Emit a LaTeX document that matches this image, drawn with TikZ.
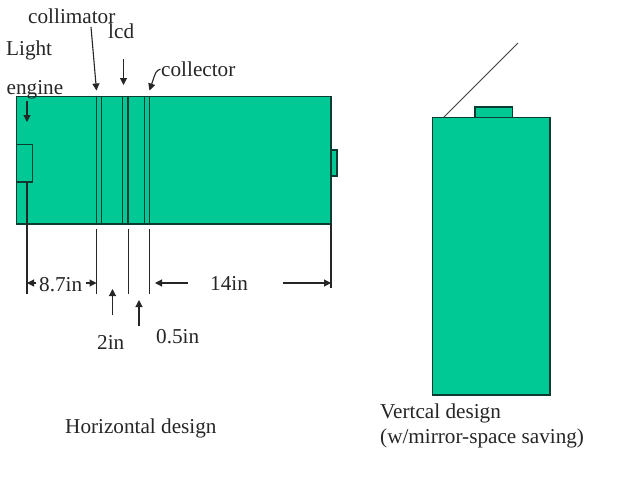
\documentclass[tikz,border=0pt]{standalone}
\usepackage{fontspec}
\setmainfont{Liberation Serif}
\usetikzlibrary{arrows.meta}
\definecolor{boxgreen}{RGB}{0,201,150}
\definecolor{edge}{RGB}{10,60,50}
\tikzset{
  x=1pt,y=-1pt,
  box/.style={draw=edge,fill=boxgreen,line width=1.3pt},
  thin line/.style={draw=edge,line width=1.2pt},
  dim/.style={draw=black!85,line width=1.1pt},
  pointer/.style={draw=black!85,line width=1.1pt,-{Triangle[length=7pt,width=7pt]}},
  lbl/.style={inner sep=0pt,anchor=base west,font=\fontsize{21.2}{22}\selectfont,text=black!85},
}
\begin{document}
\begin{tikzpicture}
\useasboundingbox (0,0) rectangle (640,480);
\path[fill=white] (0,0) rectangle (640,480);
% horizontal design
\draw[box] (331,150) rectangle (337,176);
\draw[box] (16.5,96.5) rectangle (331,224);
\draw[thin line] (16.5,144.5) rectangle (32.5,182);
\foreach \a in {96.5,101.5,122.5,128,144.5,149.8}
  \draw[thin line] (\a,96.5) -- (\a,224);
% vertical design
\draw[box] (475,107) rectangle (512.5,117.5);
\draw[box] (432.5,117.5) rectangle (550,395);
\coordinate (m1) at (443.5,117.5);
\coordinate (m2) at (518,43);
\draw[draw=black!75,line width=1pt] (m1) -- (m2);
% labels
\node[lbl] (collimator) at (28,23) {collimator};
\node[lbl] (lcd) at (108,38) {lcd};
\node[lbl] (light) at (6,55) {Light};
\node[lbl] (engine) at (6.5,94) {engine};
\node[lbl] (collector) at (161,76) {collector};
\node[lbl] (d87) at (39,291) {8.7in};
\node[lbl] (d14) at (210,290) {14in};
\node[lbl] (d2) at (97,349) {2in};
\node[lbl] (d05) at (156,343) {0.5in};
\node[lbl] (hd) at (65,433) {Horizontal design};
\node[lbl] (vd) at (380,418) {Vertcal design};
\node[lbl] (vd2) at (380,443) {(w/mirror-space saving)};
% pointers
\coordinate (a1) at (91,27); \coordinate (a2) at (96.5,90.5);
\draw[pointer] (a1) -- (a2);
\coordinate (b1) at (123.5,59); \coordinate (b2) at (123.5,85);
\draw[pointer] (b1) -- (b2);
\coordinate (c1) at (160.5,69); \coordinate (c2) at (149.5,90.5);
\draw[pointer] (c1) .. controls (156,71) .. (c2);
\coordinate (e1) at (27,101); \coordinate (e2) at (27,122);
\draw[pointer] (e1) -- (e2);
% dimension lines
\coordinate (x1) at (27,182); \coordinate (x2) at (27,294);
\coordinate (y1) at (96.5,229); \coordinate (y2) at (96.5,294);
\coordinate (z1) at (128.3,229); \coordinate (z2) at (128.3,294);
\coordinate (w1) at (149.5,229); \coordinate (w2) at (149.5,294);
\coordinate (v1) at (331,224); \coordinate (v2) at (331,288);
\foreach \p/\q in {x1/x2,y1/y2,z1/z2,w1/w2,v1/v2} \draw[dim] (\p) -- (\q);
\coordinate (k1) at (36,283); \coordinate (k2) at (27,283);
\draw[pointer] (k1) -- (k2);
\coordinate (k3) at (86,283); \coordinate (k4) at (96.5,283);
\draw[pointer] (k3) -- (k4);
\coordinate (k5) at (188,283); \coordinate (k6) at (155,283);
\draw[pointer] (k5) -- (k6);
\coordinate (k7) at (283,283); \coordinate (k8) at (331,283);
\draw[pointer] (k7) -- (k8);
\coordinate (u1) at (112.5,315); \coordinate (u2) at (112.5,289);
\draw[pointer] (u1) -- (u2);
\coordinate (t1) at (139,326); \coordinate (t2) at (139,300);
\draw[pointer] (t1) -- (t2);
\end{tikzpicture}
\end{document}
